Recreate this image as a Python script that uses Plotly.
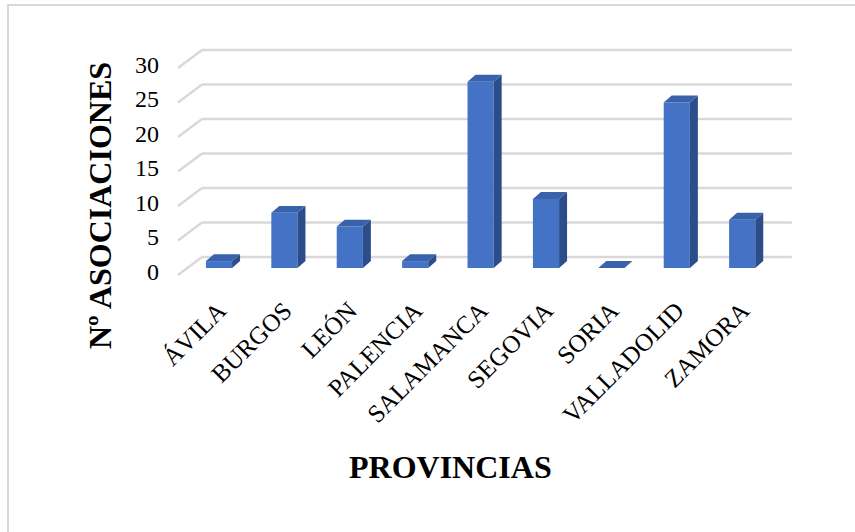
import plotly.graph_objects as go

# ---- data ----
provincias = ["ÁVILA", "BURGOS", "LEÓN", "PALENCIA", "SALAMANCA",
              "SEGOVIA", "SORIA", "VALLADOLID", "ZAMORA"]
asociaciones = [1, 8, 6, 1, 27, 10, 0, 24, 7]
y_ticks = [0, 5, 10, 15, 20, 25, 30]
y_ticktext = ["0", "5", "10", "15", "20", "25", "30"]

# ---- style / pseudo-3D geometry (in axis units) ----
FONT = "Liberation Serif, Times New Roman, serif"
FRONT = "#4472C4"
TOP = "#3A62AC"
SIDE = "#2C4D8A"
GRID = "#D9D9D9"
BAR_W = 0.40          # bar width in category units
DX, DY = 0.122, 1.0   # bar depth offset
WALL_DX0, WALL_DY0 = -0.627, -1.01   # front edge of floor/side wall
WALL_DX1, WALL_DY1 = -0.26, 1.59     # start of back wall
WALL_X_END = 8.76

idx = list(range(len(provincias)))

# side and top faces
side_x, side_y, top_x, top_y = [], [], [], []
for i, v in zip(idx, asociaciones):
    r = i + BAR_W / 2
    l = i - BAR_W / 2
    if v > 0:
        side_x += [r, r + DX, r + DX, r, r, None]
        side_y += [0, DY, v + DY, v, 0, None]
    top_x += [l, l + DX, r + DX, r, l, None]
    top_y += [v, v + DY, v + DY, v, v, None]

fig = go.Figure()

fig.add_trace(go.Bar(
    x=idx, y=asociaciones, width=BAR_W,
    marker=dict(color=FRONT, line=dict(width=0)),
    hoverinfo="skip", showlegend=False))

fig.add_trace(go.Scatter(
    x=side_x, y=side_y, mode="lines", fill="toself",
    fillcolor=SIDE, line=dict(width=0, color=SIDE),
    hoverinfo="skip", showlegend=False))

fig.add_trace(go.Scatter(
    x=top_x, y=top_y, mode="lines", fill="toself",
    fillcolor=TOP, line=dict(width=0, color=TOP),
    hoverinfo="skip", showlegend=False))

# gridlines: side-wall diagonal + back-wall horizontal
shapes = []
for v in y_ticks:
    shapes.append(dict(type="line", xref="x", yref="y", layer="below",
                       x0=WALL_DX0, y0=v + WALL_DY0, x1=WALL_DX1, y1=v + WALL_DY1,
                       line=dict(color=GRID, width=2.5)))
    shapes.append(dict(type="line", xref="x", yref="y", layer="below",
                       x0=WALL_DX1, y0=v + WALL_DY1, x1=WALL_X_END, y1=v + WALL_DY1,
                       line=dict(color=GRID, width=2.5)))

# chart-area border (extends past right and bottom edge of the image)
L, R, T, B = 160, 800, 40, 290
pw, ph = R - L, B - T
def px2paper_x(p):
    return (p - L) / pw
def px2paper_y(p):
    return (B - p) / ph
shapes.append(dict(type="rect", xref="paper", yref="paper", layer="below",
                   x0=px2paper_x(8), x1=px2paper_x(870),
                   y0=px2paper_y(560), y1=px2paper_y(5),
                   line=dict(color=GRID, width=2), fillcolor="rgba(0,0,0,0)"))

annotations = [
    dict(text="<b>Nº ASOCIACIONES</b>", xref="paper", yref="paper",
         x=px2paper_x(100), y=px2paper_y(206), textangle=-90,
         showarrow=False, font=dict(family=FONT, size=32, color="black"),
         xanchor="center", yanchor="middle"),
    dict(text="<b>PROVINCIAS</b>", xref="paper", yref="paper",
         x=px2paper_x(450), y=px2paper_y(467),
         showarrow=False, font=dict(family=FONT, size=32, color="black"),
         xanchor="center", yanchor="middle"),
]

x_scale = 65.4
y_scale = 6.9
x0_range = 0 - (219 - L) / x_scale
y0_range = -(B - 268) / y_scale

fig.update_layout(
    width=855, height=532, autosize=False,
    margin=dict(l=L, r=855 - R, t=T, b=532 - B, pad=0),
    paper_bgcolor="white", plot_bgcolor="white",
    showlegend=False,
    shapes=shapes, annotations=annotations,
    xaxis=dict(range=[x0_range, x0_range + pw / x_scale],
               tickmode="array", tickvals=idx, ticktext=provincias,
               tickangle=-45, showgrid=False, zeroline=False, showline=False,
               ticks="", tickfont=dict(family=FONT, size=25, color="black"),
               fixedrange=True),
    yaxis=dict(range=[y0_range, y0_range + ph / y_scale],
               tickmode="array", tickvals=[v - 0.45 for v in y_ticks],
               ticktext=y_ticktext, showgrid=False, zeroline=False,
               showline=False, ticks="",
               tickfont=dict(family=FONT, size=24, color="black"),
               fixedrange=True),
)

fig.write_html("out.html")
